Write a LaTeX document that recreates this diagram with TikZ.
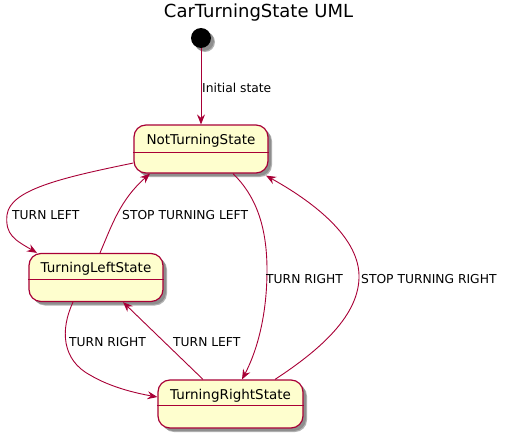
\documentclass[tikz,border=0pt]{standalone}
\usepackage{fontspec}
\setmainfont{DejaVu Sans}
\usepackage{tikz}
\usetikzlibrary{arrows.meta,shadows}
\definecolor{umlred}{HTML}{A80036}
\definecolor{umlfill}{HTML}{FEFECE}

\begin{document}
\begin{tikzpicture}[x=1pt,y=-1pt,
    umlshadow/.style={drop shadow={shadow xshift=4pt,shadow yshift=-4pt,opacity=0.3,fill=black},
      drop shadow={shadow xshift=3pt,shadow yshift=-3pt,opacity=0.2,fill=black}},
    state/.style={draw=umlred,fill=umlfill,line width=1.2pt,rounded corners=12pt,
      minimum width=134pt,inner ysep=4pt,text height=15pt,text depth=25pt,
      font=\fontsize{13.5}{16}\selectfont,umlshadow},
    trans/.style={umlred,line width=0.9pt,-{Stealth[length=10pt,width=8pt,inset=3.5pt]}},
    lbl/.style={inner sep=0pt,anchor=base west,font=\fontsize{12.3}{14}\selectfont}]
  \useasboundingbox (0,0) rectangle (509,439);

  % Title
  \node[font=\fontsize{18}{20}\selectfont,anchor=base,inner sep=0pt] (title) at (258.5,17.5) {CarTurningState UML};

  % Start point
  \node[circle,fill=black,minimum size=20pt,inner sep=0pt,umlshadow] (init) at (201,38) {};

  % States
  \node[state] (nts) at (201,149) {NotTurningState};
  \node[state] (tls) at (96,277.5) {TurningLeftState};
  \node[state,minimum width=145pt] (trs) at (230.5,404) {TurningRightState};
  \draw[umlred,line width=1.2pt] ([yshift=-28pt]nts.north west) -- ([yshift=-28pt]nts.north east);
  \draw[umlred,line width=1.2pt] ([yshift=-26.5pt]tls.north west) -- ([yshift=-26.5pt]tls.north east);
  \draw[umlred,line width=1.2pt] ([yshift=-26pt]trs.north west) -- ([yshift=-26pt]trs.north east);

  % Transitions
  \draw[trans] (init) -- (nts);
  \draw[trans] ([yshift=-14pt]nts.west) .. controls (60,178) and (10,190) .. (7,215)
    .. controls (5,235) and (15,240) .. ([xshift=-59pt]tls.north);
  \draw[trans] ([xshift=4pt]tls.north) .. controls (112,225) and (120,200) .. ([xshift=-51pt]nts.south);
  \draw[trans] ([xshift=32pt]nts.south) .. controls (255,195) and (267,225) .. (267,270)
    .. controls (267,320) and (255,355) .. ([xshift=11.5pt]trs.north);
  \draw[trans] ([xshift=44.5pt]trs.north) .. controls (320,350) and (360,315) .. (359,275)
    .. controls (358,235) and (310,200) .. ([xshift=65pt,yshift=-2pt]nts.south);
  \draw[trans] ([xshift=-23pt]tls.south) .. controls (60,330) and (62,360) .. (90,375)
    .. controls (110,387) and (135,393) .. ([yshift=7pt]trs.west);
  \draw[trans] ([xshift=-27.5pt]trs.north) -- ([xshift=27pt]tls.south);

  % Labels
  \node[lbl] (linit) at (202,92.5) {Initial state};
  \node[lbl] (lleft) at (12,219) {TURN LEFT};
  \node[lbl] (lstopl) at (122,219) {STOP TURNING LEFT};
  \node[lbl] (lright) at (266,283) {TURN RIGHT};
  \node[lbl] (lstopr) at (361,283) {STOP TURNING RIGHT};
  \node[lbl] (lright2) at (69,346) {TURN RIGHT};
  \node[lbl] (lleft2) at (173,346) {TURN LEFT};
\end{tikzpicture}
\end{document}
